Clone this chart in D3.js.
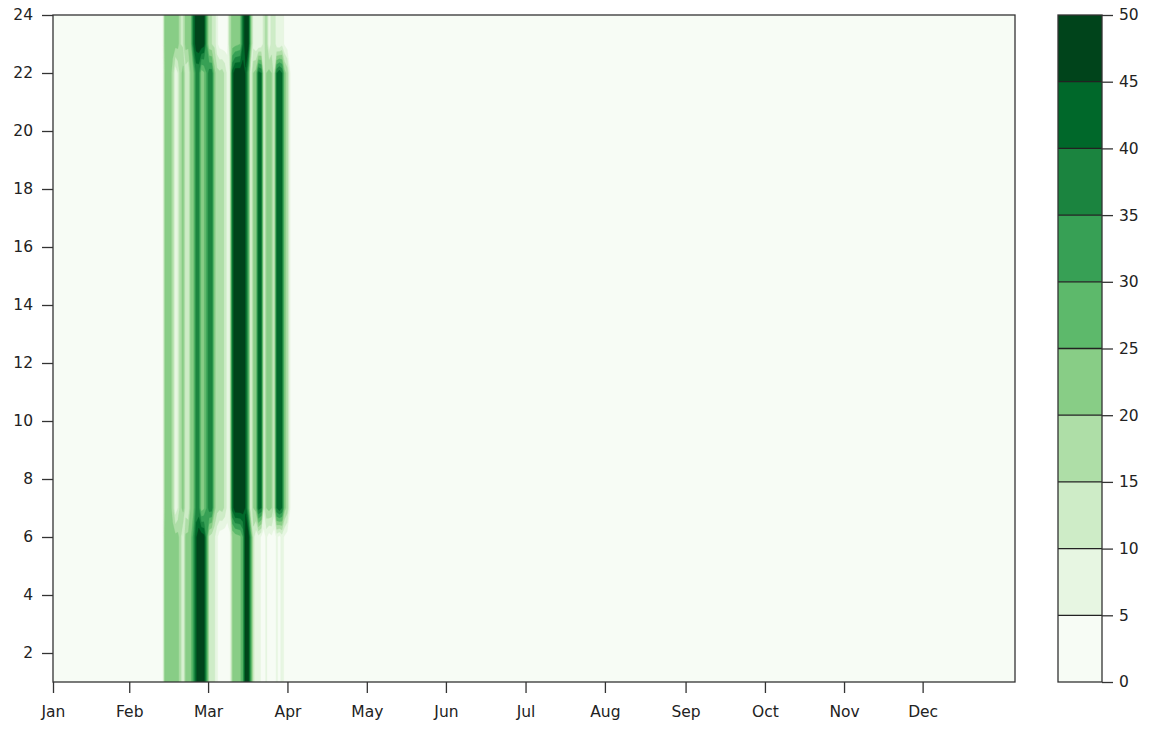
<!DOCTYPE html>
<html>
<head>
<meta charset="utf-8">
<script src="https://cdn.jsdelivr.net/npm/d3@7"></script>
<style>
  body { margin: 0; background: #ffffff; }
  text { font-family: "DejaVu Sans", sans-serif; }
</style>
</head>
<body>
<svg id="chart" width="1156" height="729"></svg>
<script>
// Month labels and the day offset of each month tick
const monthLabels = ["Jan", "Feb", "Mar", "Apr", "May", "Jun", "Jul", "Aug", "Sep", "Oct", "Nov", "Dec"];
const monthTickDays = [0, 29.3, 59.6, 90.1, 120.6, 151, 181.6, 212.1, 243.1, 273.6, 304, 334.2];
const dayCount = 370;
const hourTicks = [2, 4, 6, 8, 10, 12, 14, 16, 18, 20, 22, 24];
const levels = [0, 5, 10, 15, 20, 25, 30, 35, 40, 45, 50];

// Daily values from day offset 42 (Feb 12) onward; every other day is 0
const firstDay = 42;
// hours 1-6
const nightValues = [0, 22, 22, 22, 22, 22, 22, 16, 8, 21, 22, 24, 32, 44, 49, 49, 47, 32, 14, 12,
                     11, 6, 2, 1, 1, 2, 4, 20, 22, 23, 24, 30, 49, 49, 30, 12, 6, 8, 4, 3,
                     6, 2, 4, 2, 6, 3, 7, 4, 2, 0, 0];
// hours 7-22
const dayValues = [0, 20, 22, 22, 18, 6, 10, 18, 22, 12, 10, 22, 24, 36, 36, 22, 24, 30, 38, 38,
                   22, 17, 16, 17, 14, 8, 10, 42, 49, 49, 49, 49, 44, 30, 8, 20, 22, 42, 40, 10,
                   20, 22, 20, 12, 40, 44, 40, 22, 18, 6, 0];
// hours 23-24
const lateValues = [0, 22, 22, 22, 22, 22, 22, 15, 14, 22, 22, 24, 40, 48, 49, 49, 47, 30, 16, 15,
                    14, 6, 3, 2, 2, 3, 18, 22, 23, 24, 25, 40, 49, 49, 22, 8, 6, 5, 6, 12,
                    19, 6, 12, 14, 6, 5, 8, 4, 2, 0, 0];

const greensStops = ["#f7fcf5", "#e5f5e0", "#c7e9c0", "#a1d99b", "#74c476",
                     "#41ab5d", "#238b45", "#006d2c", "#00441b"];
const greens = d3.piecewise(d3.interpolateRgb, greensStops);
const bandColor = i => greens(i / (levels.length - 2));

const svg = d3.select("#chart");
const plot = { left: 53, right: 1015, top: 15, bottom: 682 };

const x = d3.scaleLinear().domain([0, 369.7]).range([plot.left, plot.right]);
const y = d3.scaleLinear().domain([1, 24]).range([plot.bottom, plot.top]);

// Hour x day grid: row j holds hour j+1
const nx = dayCount, ny = 24;
const grid = new Array(nx * ny).fill(0);
function profileFor(hour) {
  if (hour <= 6) return nightValues;
  if (hour <= 22) return dayValues;
  return lateValues;
}
for (let j = 0; j < ny; j++) {
  const prof = profileFor(j + 1);
  prof.forEach((v, k) => { grid[j * nx + firstDay + k] = v; });
}

const contours = d3.contours().size([nx, ny]).thresholds(levels.slice(0, -1))(grid);

// grid cell i sits at contour coordinate i + 0.5
const proj = d3.geoTransform({
  point: function (cx, cy) { this.stream.point(x(cx - 0.5), y(cy + 0.5)); }
});
const path = d3.geoPath(proj);

svg.append("clipPath").attr("id", "plot-clip")
  .append("rect")
  .attr("x", plot.left).attr("y", plot.top)
  .attr("width", plot.right - plot.left).attr("height", plot.bottom - plot.top);

svg.append("g").attr("clip-path", "url(#plot-clip)")
  .selectAll("path")
  .data(contours)
  .join("path")
  .attr("d", path)
  .attr("fill", (d, i) => bandColor(i))
  .attr("stroke", (d, i) => bandColor(i))
  .attr("stroke-width", 0.3);

// Frame
svg.append("rect")
  .attr("x", plot.left).attr("y", plot.top)
  .attr("width", plot.right - plot.left).attr("height", plot.bottom - plot.top)
  .attr("fill", "none").attr("stroke", "#333").attr("stroke-width", 1.3);

const axisColor = "#333";
const tickLen = 11;
const fontSize = "15.5px";

// x axis (months)
const xAxis = svg.append("g")
  .attr("transform", `translate(0,${plot.bottom})`)
  .call(d3.axisBottom(x).tickValues(monthTickDays)
    .tickFormat((d, i) => monthLabels[i]).tickSize(tickLen).tickPadding(13));
xAxis.select(".domain").remove();

// y axis (hours)
const yAxis = svg.append("g")
  .attr("transform", `translate(${plot.left},0)`)
  .call(d3.axisLeft(y).tickValues(hourTicks).tickSize(tickLen).tickPadding(9));
yAxis.select(".domain").remove();

[xAxis, yAxis].forEach(g => {
  g.selectAll("line").attr("stroke", axisColor).attr("stroke-width", 1.3);
  g.selectAll("text").attr("fill", "#222").style("font-size", fontSize)
    .style("font-family", "'DejaVu Sans', sans-serif");
});

// Colorbar
const cb = { left: 1058, right: 1102, top: 15, bottom: 682 };
const cbY = d3.scaleLinear().domain([0, 50]).range([cb.bottom, cb.top]);
const cbG = svg.append("g");
cbG.selectAll("rect.band")
  .data(levels.slice(0, -1))
  .join("rect")
  .attr("class", "band")
  .attr("x", cb.left)
  .attr("y", (d, i) => cbY(levels[i + 1]))
  .attr("width", cb.right - cb.left)
  .attr("height", (d, i) => cbY(levels[i]) - cbY(levels[i + 1]))
  .attr("fill", (d, i) => bandColor(i));
cbG.selectAll("line.edge")
  .data(levels.slice(1, -1))
  .join("line")
  .attr("class", "edge")
  .attr("x1", cb.left).attr("x2", cb.right)
  .attr("y1", d => cbY(d)).attr("y2", d => cbY(d))
  .attr("stroke", "#222").attr("stroke-width", 1.3);
cbG.append("rect")
  .attr("x", cb.left).attr("y", cb.top)
  .attr("width", cb.right - cb.left).attr("height", cb.bottom - cb.top)
  .attr("fill", "none").attr("stroke", "#333").attr("stroke-width", 1.3);

const cbAxis = svg.append("g")
  .attr("transform", `translate(${cb.right},0)`)
  .call(d3.axisRight(cbY).tickValues(levels).tickSize(tickLen).tickPadding(6));
cbAxis.select(".domain").remove();
cbAxis.selectAll("line").attr("stroke", axisColor).attr("stroke-width", 1.3);
cbAxis.selectAll("text").attr("fill", "#222").style("font-size", fontSize)
  .style("font-family", "'DejaVu Sans', sans-serif");
</script>
</body>
</html>
